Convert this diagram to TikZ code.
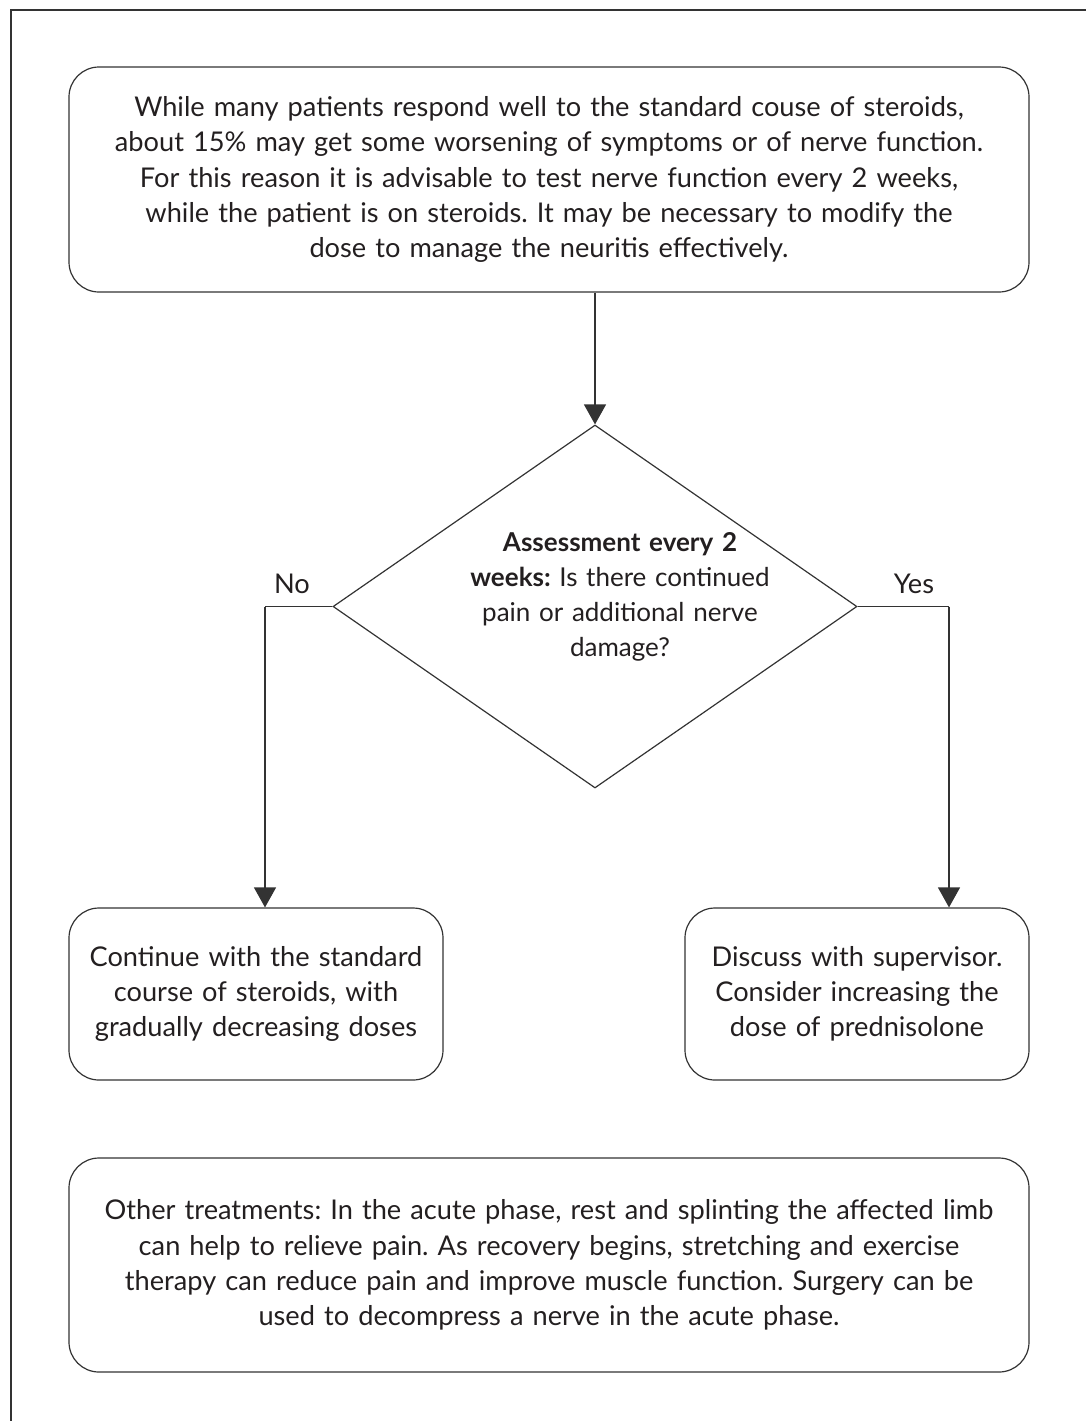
\documentclass[tikz,border=0pt]{standalone}
\usepackage{fontspec}
\setmainfont{Lato}
\usetikzlibrary{arrows.meta,shapes.geometric}
\definecolor{ink}{HTML}{231F20}
\definecolor{rule}{HTML}{333333}
\frenchspacing
\begin{document}
\begin{tikzpicture}[x=0.5pt,y=-0.5pt,
  every node/.style={text=ink,font=\fontsize{13.6pt}{17.6pt}\selectfont},
  box/.style={draw=rule,line width=0.6pt,rounded corners=15pt,inner sep=0pt,align=center},
  flow/.style={draw=rule,line width=0.6pt,-{Triangle[width=11pt,length=10pt]}},
  wire/.style={draw=rule,line width=0.6pt}]
\useasboundingbox (0,0) rectangle (1086,1421);
% frame edges
\draw[rule,line width=0.7pt] (11,1421) -- (11,10) -- (1086,10);

% boxes
\node[box,minimum width=480pt,minimum height=112.5pt,text width=478pt] (top) at (549,179.5)
  {While many patients respond well to the standard couse of steroids,\\
   about 15\% may get some worsening of symptoms or of nerve function.\\
   For this reason it is advisable to test nerve function every 2 weeks,\\
   while the patient is on steroids. It may be necessary to modify the\\
   dose to manage the neuritis effectively.};

\node[draw=rule,line width=0.6pt,shape=diamond,inner sep=0pt,minimum width=262pt,minimum height=181.5pt] (dec) at (595,606.5) {};
\node[align=center,text width=200pt,font=\fontsize{13pt}{17.6pt}\selectfont] (dectext) at (620,597)
  {\textbf{Assessment every 2}\\ \textbf{weeks:} Is there continued\\ pain or additional nerve\\ damage?};

\node[box,minimum width=187pt,minimum height=86pt,text width=185pt] (left) at (256,994)
  {Continue with the standard\\ course of steroids, with\\ gradually decreasing doses};
\node[box,minimum width=172pt,minimum height=86pt,text width=170pt] (right) at (857,994)
  {Discuss with supervisor.\\ Consider increasing the\\ dose of prednisolone};

\node[box,minimum width=480pt,minimum height=107pt,text width=478pt] (other) at (549,1265)
  {Other treatments: In the acute phase, rest and splinting the affected limb\\
   can help to relieve pain. As recovery begins, stretching and exercise\\
   therapy can reduce pain and improve muscle function. Surgery can be\\
   used to decompress a nerve in the acute phase.};

% connectors
\draw[flow] (top.south -| dec.north) -- (dec.north);
\coordinate (noTurn) at (265,606.5);
\coordinate (yesTurn) at (949,606.5);
\draw[wire] (dec.west) -- (noTurn);
\draw[flow] (noTurn) -- (noTurn |- left.north);
\draw[wire] (dec.east) -- (yesTurn);
\draw[flow] (yesTurn) -- (yesTurn |- right.north);

% branch labels
\node (nolab) at (292,584) {No};
\node (yeslab) at (914,584) {Yes};
\end{tikzpicture}
\end{document}
